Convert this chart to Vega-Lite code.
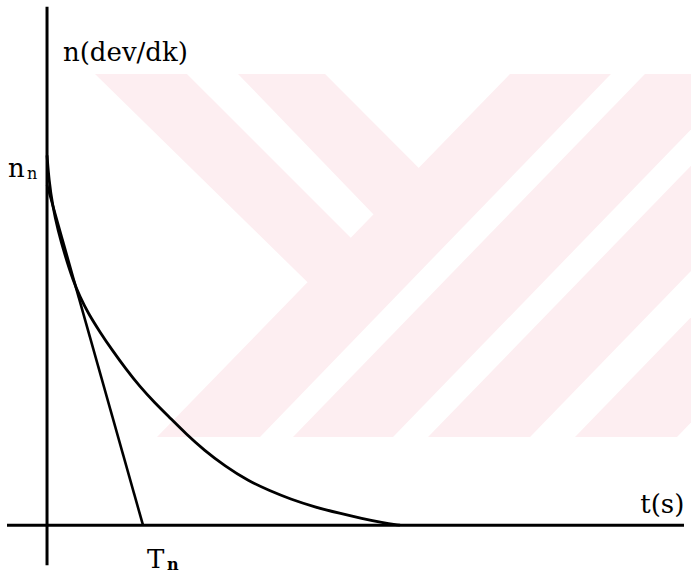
{
  "$schema": "https://vega.github.io/schema/vega-lite/v6.json",
  "width": 691,
  "height": 577,
  "autosize": {"type": "none"},
  "padding": 0,
  "background": "white",
  "config": {"view": {"stroke": null}},
  "datasets": {
    "watermark": [
      {"band": "a", "n": 1.22, "t0": 0.5, "t1": 1.458},
      {"band": "a", "n": 0.6575, "t0": 2.712, "t1": 3.626},
      {"band": "b", "n": 1.22, "t0": 1.99, "t1": 2.897},
      {"band": "b", "n": 0.841, "t0": 3.4, "t1": 4.355},
      {"band": "c", "n": 1.22, "t0": 4.824, "t1": 5.876},
      {"band": "c", "n": 0.2385, "t0": 1.146, "t1": 2.219},
      {"band": "d", "n": 1.22, "t0": 6.23, "t1": 7.272},
      {"band": "d", "n": 0.2385, "t0": 2.563, "t1": 3.605},
      {"band": "e", "n": 1.22, "t0": 7.637, "t1": 8.7},
      {"band": "e", "n": 0.2385, "t0": 3.97, "t1": 5.033},
      {"band": "f", "n": 1.22, "t0": 9.169, "t1": 10.232},
      {"band": "f", "n": 0.2385, "t0": 5.501, "t1": 6.564}
    ],
    "axes": [
      {"t0": 0, "t1": 0, "n0": -0.108, "n1": 1.402},
      {"t0": -0.417, "t1": 6.637, "n0": 0, "n1": 0}
    ],
    "tangent": [
      {"t": 0, "n": 0.92},
      {"t": 1, "n": 0}
    ],
    "decay": [
      {"t": 0, "n": 1.0},
      {"t": 0.02, "n": 0.933},
      {"t": 0.057, "n": 0.865},
      {"t": 0.114, "n": 0.797},
      {"t": 0.187, "n": 0.73},
      {"t": 0.271, "n": 0.662},
      {"t": 0.344, "n": 0.617},
      {"t": 0.427, "n": 0.574},
      {"t": 0.552, "n": 0.522},
      {"t": 0.677, "n": 0.474},
      {"t": 0.823, "n": 0.422},
      {"t": 0.969, "n": 0.374},
      {"t": 1.115, "n": 0.333},
      {"t": 1.271, "n": 0.293},
      {"t": 1.448, "n": 0.247},
      {"t": 1.636, "n": 0.203},
      {"t": 1.854, "n": 0.16},
      {"t": 2.094, "n": 0.12},
      {"t": 2.323, "n": 0.093},
      {"t": 2.532, "n": 0.071},
      {"t": 2.792, "n": 0.049},
      {"t": 3.053, "n": 0.032},
      {"t": 3.282, "n": 0.018},
      {"t": 3.49, "n": 0.007},
      {"t": 3.678, "n": 0}
    ],
    "labels": [
      {"t": 0.166, "n": 1.255, "label": "n(dev/dk)"},
      {"t": -0.407, "n": 0.941, "label": "n"},
      {"t": 1.042, "n": -0.1157, "label": "T"}
    ],
    "nSubscript": [
      {"t": -0.209, "n": 0.9356, "label": "n"}
    ],
    "tSubscript": [
      {"t": 1.25, "n": -0.1211, "label": "n"}
    ],
    "timeLabel": [
      {"t": 6.64, "n": 0.033, "label": "t(s)"}
    ]
  },
  "layer": [
    {
      "data": {"name": "watermark"},
      "mark": {"type": "area", "orient": "horizontal", "color": "#FDEEF1", "clip": true},
      "encoding": {
        "y": {"field": "n", "type": "quantitative", "scale": {"domain": [-0.14, 1.42], "nice": false, "zero": false}, "axis": null},
        "x": {"field": "t0", "type": "quantitative", "scale": {"domain": [-0.49, 6.71], "nice": false, "zero": false}, "axis": null},
        "x2": {"field": "t1"},
        "detail": {"field": "band", "type": "nominal"}
      }
    },
    {
      "data": {"name": "axes"},
      "mark": {"type": "rule", "color": "black", "strokeWidth": 3},
      "encoding": {
        "x": {"field": "t0", "type": "quantitative", "scale": {"domain": [-0.49, 6.71], "nice": false, "zero": false}, "axis": null},
        "x2": {"field": "t1"},
        "y": {"field": "n0", "type": "quantitative", "scale": {"domain": [-0.14, 1.42], "nice": false, "zero": false}, "axis": null},
        "y2": {"field": "n1"}
      }
    },
    {
      "data": {"name": "tangent"},
      "mark": {"type": "line", "color": "black", "strokeWidth": 2.6},
      "encoding": {
        "x": {"field": "t", "type": "quantitative", "scale": {"domain": [-0.49, 6.71], "nice": false, "zero": false}, "axis": null},
        "y": {"field": "n", "type": "quantitative", "scale": {"domain": [-0.14, 1.42], "nice": false, "zero": false}, "axis": null}
      }
    },
    {
      "data": {"name": "decay"},
      "mark": {"type": "line", "color": "black", "strokeWidth": 2.8, "interpolate": "basis"},
      "encoding": {
        "x": {"field": "t", "type": "quantitative", "scale": {"domain": [-0.49, 6.71], "nice": false, "zero": false}, "axis": null},
        "y": {"field": "n", "type": "quantitative", "scale": {"domain": [-0.14, 1.42], "nice": false, "zero": false}, "axis": null}
      }
    },
    {
      "data": {"name": "labels"},
      "mark": {"type": "text", "font": "DejaVu Serif", "fontSize": 26, "align": "left", "baseline": "alphabetic", "color": "black"},
      "encoding": {
        "x": {"field": "t", "type": "quantitative", "scale": {"domain": [-0.49, 6.71], "nice": false, "zero": false}, "axis": null},
        "y": {"field": "n", "type": "quantitative", "scale": {"domain": [-0.14, 1.42], "nice": false, "zero": false}, "axis": null},
        "text": {"field": "label"}
      }
    },
    {
      "data": {"name": "nSubscript"},
      "mark": {"type": "text", "font": "DejaVu Serif", "fontSize": 16, "align": "left", "baseline": "alphabetic", "color": "black"},
      "encoding": {
        "x": {"field": "t", "type": "quantitative", "scale": {"domain": [-0.49, 6.71], "nice": false, "zero": false}, "axis": null},
        "y": {"field": "n", "type": "quantitative", "scale": {"domain": [-0.14, 1.42], "nice": false, "zero": false}, "axis": null},
        "text": {"field": "label"}
      }
    },
    {
      "data": {"name": "tSubscript"},
      "mark": {"type": "text", "font": "DejaVu Serif", "fontSize": 16, "fontWeight": "bold", "align": "left", "baseline": "alphabetic", "color": "black"},
      "encoding": {
        "x": {"field": "t", "type": "quantitative", "scale": {"domain": [-0.49, 6.71], "nice": false, "zero": false}, "axis": null},
        "y": {"field": "n", "type": "quantitative", "scale": {"domain": [-0.14, 1.42], "nice": false, "zero": false}, "axis": null},
        "text": {"field": "label"}
      }
    },
    {
      "data": {"name": "timeLabel"},
      "mark": {"type": "text", "font": "DejaVu Serif", "fontSize": 26, "align": "right", "baseline": "alphabetic", "color": "black"},
      "encoding": {
        "x": {"field": "t", "type": "quantitative", "scale": {"domain": [-0.49, 6.71], "nice": false, "zero": false}, "axis": null},
        "y": {"field": "n", "type": "quantitative", "scale": {"domain": [-0.14, 1.42], "nice": false, "zero": false}, "axis": null},
        "text": {"field": "label"}
      }
    }
  ]
}
